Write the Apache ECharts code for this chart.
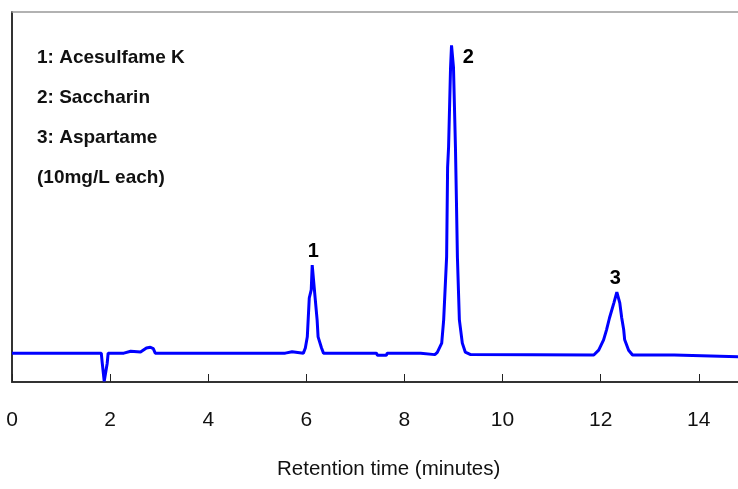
<!DOCTYPE html>
<html>
<head>
<meta charset="utf-8">
<script src="https://cdn.jsdelivr.net/npm/echarts@6/dist/echarts.min.js"></script>
<style>
  html, body { margin: 0; padding: 0; background: #fff; }
  #chart { width: 738px; height: 489px; }
</style>
</head>
<body>
<div id="chart"></div>
<script>
// chromatogram trace, [minutes, detector response (arbitrary units)]
const trace = [
  [0, 7.8], [1.82, 7.8], [1.84, 5.1], [1.88, 0.2], [1.92, 0.3], [1.94, 5.0], [1.96, 7.8],
  [2.28, 7.8], [2.30, 8.3], [2.42, 8.3], [2.44, 8.0], [2.62, 8.1], [2.66, 8.6],
  [2.74, 9.2], [2.82, 9.4], [2.88, 9.0], [2.92, 7.8],
  [5.57, 7.8], [5.59, 8.2], [5.71, 8.2], [5.73, 7.8],
  [5.94, 7.8], [5.98, 9.2], [6.02, 12.2], [6.06, 22.7], [6.10, 24.9], [6.12, 31.6],
  [6.16, 31.6], [6.18, 22.7], [6.22, 16.8], [6.24, 12.2], [6.31, 9.2], [6.35, 7.8],
  [7.43, 7.8], [7.45, 7.2], [7.63, 7.2], [7.65, 7.8],
  [8.33, 7.8], [8.35, 7.3], [8.62, 7.4], [8.67, 8.0], [8.76, 10.5], [8.80, 16.8],
  [8.86, 33.8], [8.88, 58], [8.90, 63.5], [8.94, 84.9], [8.96, 91], [8.99, 91],
  [9.00, 85], [9.04, 63.5], [9.06, 49], [9.08, 33.8], [9.12, 16.8], [9.18, 10.5],
  [9.24, 8.1], [9.35, 7.4],
  [11.86, 7.3], [11.96, 8.6], [12.06, 11.4], [12.12, 14.1], [12.18, 17.3], [12.27, 21.4],
  [12.33, 24.3], [12.39, 21.4], [12.43, 17.3], [12.47, 14.1], [12.49, 11.4], [12.57, 8.6],
  [12.65, 7.3],
  [13.5, 7.3], [13.51, 6.8], [14.8, 6.8]
];

// peak number labels placed over each peak
const peakLabels = ['1', '2', '3'];
const peakCoords = [[6.14, 31.6], [9.3, 84], [12.3, 24.3]];

const legendLines = ['1: Acesulfame K', '2: Saccharin', '3: Aspartame', '(10mg/L each)'];

const myChart = echarts.init(document.getElementById('chart'));

const option = {
  animation: false,
  grid: { left: 12, right: 0, top: 12, bottom: 107 },
  xAxis: [
    {
      type: 'value',
      min: 0,
      max: 14.8,
      interval: 2,
      axisLine: { lineStyle: { color: '#333', width: 2 } },
      axisTick: { inside: true, length: 8, lineStyle: { color: '#222', width: 1 } },
      axisLabel: {
        showMaxLabel: false,
        margin: 28,
        fontFamily: 'Liberation Sans',
        fontSize: 21,
        color: '#111'
      },
      splitLine: { show: false }
    },
    {
      // grey frame line along the top
      type: 'value',
      position: 'top',
      min: 0,
      max: 14.8,
      axisLine: { show: true, lineStyle: { color: '#999', width: 1.5 } },
      axisTick: { show: false },
      axisLabel: { show: false },
      splitLine: { show: false }
    }
  ],
  yAxis: {
    type: 'value',
    min: 0,
    max: 100,
    axisLine: { show: true, lineStyle: { color: '#333', width: 2 } },
    axisTick: { show: false },
    axisLabel: { show: false },
    splitLine: { show: false }
  },
  series: [
    {
      type: 'line',
      data: trace,
      symbol: 'none',
      lineStyle: { color: '#0000ff', width: 3 }
    },
    {
      type: 'scatter',
      data: peakLabels.map((name, i) => ({ name, value: peakCoords[i] })),
      symbolSize: 0,
      itemStyle: { color: '#000', opacity: 1 },
      label: {
        show: true,
        position: 'top',
        distance: 4,
        fontFamily: 'Liberation Sans',
        fontWeight: 'bold',
        fontSize: 20,
        color: '#000',
        opacity: 1,
        formatter: (p) => p.name
      }
    }
  ],
  graphic: [
    ...legendLines.map((text, i) => ({
      type: 'text',
      left: 37,
      top: 48 + i * 40,
      style: {
        text,
        font: 'bold 19px "Liberation Sans"',
        fill: '#111'
      }
    })),
    {
      type: 'text',
      left: 277,
      top: 459,
      style: {
        text: 'Retention time (minutes)',
        font: '20.5px "Liberation Sans"',
        fill: '#111'
      }
    }
  ]
};

myChart.setOption(option);
</script>
</body>
</html>
